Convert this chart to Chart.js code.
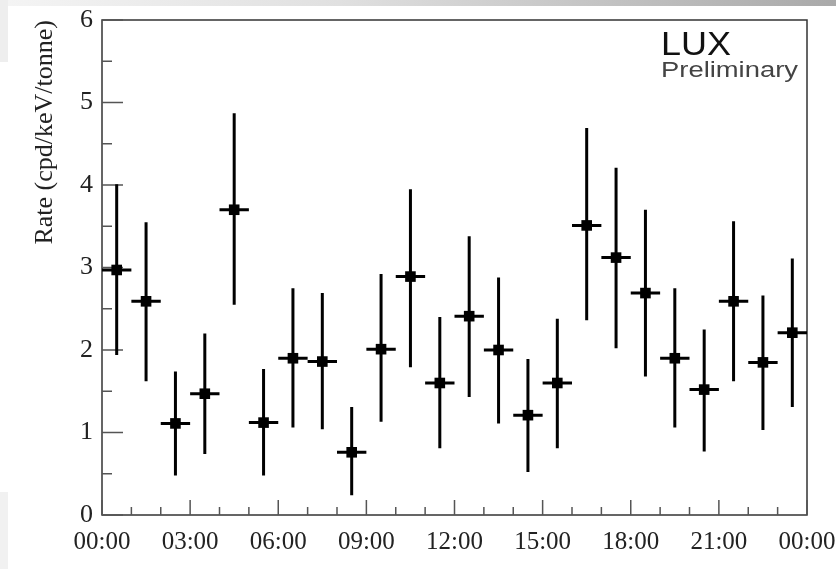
<!DOCTYPE html>
<html>
<head>
<meta charset="utf-8">
<script src="https://cdn.jsdelivr.net/npm/chart.js@4"></script>
<style>
    html, body { margin: 0; padding: 0; background: #fff; }
    #wrap { position: relative; width: 836px; height: 569px; overflow: hidden; }
    /* grijze balk bovenaan en strook links, zoals op de dia */
    #balk { position: absolute; left: 8px; top: 0; width: 828px; height: 6px;
            background: linear-gradient(to right, #f4f4f4, #e0e0e0 40%, #a9a9a9); }
    #strookBoven { position: absolute; left: 0; top: 0; width: 8px; height: 62px; background: #eeeeee; }
    #strookOnder { position: absolute; left: 0; top: 492px; width: 8px; height: 77px; background: #f1f1f1; }
    canvas { position: absolute; left: 0; top: 0; }
</style>
</head>
<body>
<div id="wrap">
    <div id="balk"></div>
    <div id="strookBoven"></div>
    <div id="strookOnder"></div>
    <canvas id="grafiek" width="836" height="569"></canvas>
</div>
<script>
"use strict";

// Midden van elk uur-bin (uren na middernacht).
const uren = [0.5, 1.5, 2.5, 3.5, 4.5, 5.5, 6.5, 7.5, 8.5, 9.5, 10.5, 11.5,
              12.5, 13.5, 14.5, 15.5, 16.5, 17.5, 18.5, 19.5, 20.5, 21.5, 22.5, 23.5];

// Gemeten rate per uur (cpd/keV/tonne).
const rate = [2.97, 2.59, 1.11, 1.47, 3.70, 1.12, 1.90, 1.86, 0.76, 2.01, 2.89, 1.60,
              2.41, 2.00, 1.21, 1.60, 3.51, 3.12, 2.69, 1.90, 1.52, 2.59, 1.85, 2.21];

// Boven- en ondergrens van de foutbalken.
const boven = [4.01, 3.55, 1.74, 2.20, 4.87, 1.77, 2.75, 2.69, 1.31, 2.92, 3.95, 2.40,
               3.38, 2.88, 1.89, 2.38, 4.69, 4.21, 3.70, 2.75, 2.25, 3.56, 2.66, 3.11];
const onder = [1.94, 1.62, 0.48, 0.74, 2.55, 0.48, 1.06, 1.04, 0.24, 1.13, 1.79, 0.81,
               1.43, 1.11, 0.52, 0.81, 2.36, 2.02, 1.68, 1.06, 0.77, 1.62, 1.03, 1.31];

// Halve breedte van een bin in uren (horizontale foutbalk).
const halveBin = 0.5;

// Labels op de x-as, om de drie uur.
const tijdLabels = ["00:00", "03:00", "06:00", "09:00", "12:00", "15:00", "18:00", "21:00", "00:00"];

const serif = "'Liberation Serif', 'DejaVu Serif', serif";
const asKleur = "#333333";

window.onload = function() {
    tekenGrafiek();
};

// Schrijf tekst die precies een bepaalde breedte vult (de tekst op de dia is wat uitgerekt).
function tekstOpBreedte(ctx, tekst, x, y, breedte) {
    const gemeten = ctx.measureText(tekst).width;
    ctx.save();
    ctx.translate(x, y);
    ctx.scale(breedte / gemeten, 1);
    ctx.fillText(tekst, 0, 0);
    ctx.restore();
}

// Tekent de foutbalken op basis van de schalen van de grafiek.
const foutbalken = {
    id: "foutbalken",
    afterDatasetsDraw(chart) {
        const ctx = chart.ctx;
        const x = chart.scales.x;
        const y = chart.scales.y;
        ctx.save();
        ctx.strokeStyle = "#000";
        ctx.lineWidth = 3;
        ctx.lineCap = "butt";
        for (let i = 0; i < uren.length; i++) {
            const px = x.getPixelForValue(uren[i]);
            const py = y.getPixelForValue(rate[i]);
            ctx.beginPath();
            ctx.moveTo(px, y.getPixelForValue(boven[i]));
            ctx.lineTo(px, y.getPixelForValue(onder[i]));
            ctx.moveTo(x.getPixelForValue(uren[i] - halveBin), py);
            ctx.lineTo(x.getPixelForValue(uren[i] + halveBin), py);
            ctx.stroke();
        }
        ctx.restore();
    }
};

// Tekent het kader en de naar binnen gerichte tickstreepjes.
const kader = {
    id: "kader",
    beforeDatasetsDraw(chart) {
        const ctx = chart.ctx;
        const a = chart.chartArea;
        const x = chart.scales.x;
        const y = chart.scales.y;
        ctx.save();
        ctx.strokeStyle = asKleur;
        ctx.lineWidth = 1.5;
        ctx.strokeRect(a.left, a.top, a.right - a.left, a.bottom - a.top);

        ctx.strokeStyle = "#555";
        ctx.beginPath();
        for (let v = 0; v <= 6; v += 0.5) {
            const py = y.getPixelForValue(v);
            const lengte = (v % 1 === 0) ? 21 : 10;
            ctx.moveTo(a.left, py);
            ctx.lineTo(a.left + lengte, py);
        }
        for (let h = 0; h <= 24; h++) {
            const px = x.getPixelForValue(h);
            const lengte = (h % 3 === 0) ? 15 : 8;
            ctx.moveTo(px, a.bottom);
            ctx.lineTo(px, a.bottom - lengte);
        }
        ctx.stroke();

        // Tekst "LUX Preliminary" rechtsboven.
        ctx.textAlign = "left";
        ctx.textBaseline = "alphabetic";
        ctx.fillStyle = "#111";
        ctx.font = "33px 'Liberation Sans', Arial, sans-serif";
        tekstOpBreedte(ctx, "LUX", 661, 55, 70);
        ctx.fillStyle = "#444";
        ctx.font = "22px 'Liberation Sans', Arial, sans-serif";
        tekstOpBreedte(ctx, "Preliminary", 661, 77, 137);
        ctx.restore();
    }
};

function tekenGrafiek() {
    const punten = uren.map((u, i) => ({ x: u, y: rate[i] }));

    new Chart(document.getElementById("grafiek"), {
        type: "scatter",
        data: {
            datasets: [{
                label: "Rate",
                data: punten,
                pointStyle: "rect",
                pointRadius: 7.5,
                pointBackgroundColor: "#000",
                pointBorderColor: "#000",
                pointBorderWidth: 0,
                showLine: false
            }]
        },
        options: {
            responsive: false,
            animation: false,
            layout: { padding: { top: 20, right: 29, left: 0, bottom: 0 } },
            plugins: {
                legend: { display: false },
                tooltip: { enabled: false }
            },
            scales: {
                x: {
                    type: "linear",
                    min: 0,
                    max: 24,
                    afterBuildTicks: function(as) {
                        as.ticks = tijdLabels.map((t, i) => ({ value: i * 3 }));
                    },
                    afterFit: function(as) {
                        as.height = 54;
                        as.paddingLeft = 0;
                        as.paddingRight = 0;
                    },
                    grid: { display: false, drawTicks: false },
                    border: { display: false },
                    ticks: {
                        color: "#222",
                        padding: 12,
                        maxRotation: 0,
                        font: { family: serif, size: 25 },
                        callback: function(waarde) {
                            return tijdLabels[Math.round(waarde / 3)];
                        }
                    }
                },
                y: {
                    min: 0,
                    max: 6,
                    afterFit: function(as) {
                        as.width = 102;
                        as.paddingTop = 0;
                        as.paddingBottom = 0;
                    },
                    grid: { display: false, drawTicks: false },
                    border: { display: false },
                    ticks: {
                        stepSize: 1,
                        color: "#222",
                        padding: 9,
                        font: { family: serif, size: 26 }
                    },
                    title: {
                        display: true,
                        text: "Rate (cpd/keV/tonne)",
                        align: "end",
                        color: "#222",
                        padding: { top: 30, bottom: 0 },
                        font: { family: serif, size: 26 }
                    }
                }
            }
        },
        plugins: [kader, foutbalken]
    });
}
</script>
</body>
</html>
